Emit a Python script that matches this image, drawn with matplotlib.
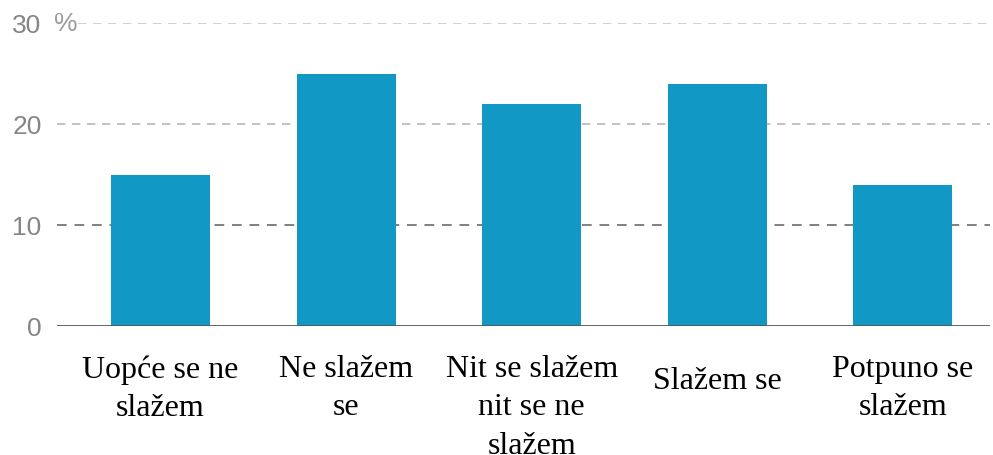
import numpy as np
import matplotlib.pyplot as plt
from matplotlib.transforms import blended_transform_factory

categories = ['Uopće se ne\nslažem', 'Ne slažem\nse', 'Nit se slažem\nnit se ne\nslažem',
              'Slažem se', 'Potpuno se\nslažem']
values = [15, 25, 22, 24, 14]
yticks = [0, 10, 20, 30]
ytick_labels = ['0', '10', '20', '30']

fig = plt.figure(figsize=(9.93, 4.56), dpi=100)
ax = fig.add_axes([57 / 993, 1 - 327 / 456, 933 / 993, 303 / 456])

x = np.arange(len(values))
ax.bar(x, values, width=0.534, color='#1198c5', zorder=3)
ax.set_xlim(-0.558, 4.47)
ax.set_ylim(0, 30)

# gridlines (top one starts after the "%" sign)
ax.axhline(30, xmin=0.023, color='#c8c8c8', lw=1.2, ls=(0, (5, 4)), zorder=1)
ax.axhline(20, color='#b8b8b8', lw=1.2, ls=(0, (5, 4)), zorder=1)
ax.axhline(10, color='#808080', lw=1.4, ls=(0, (5, 4)), zorder=1)
ax.axhline(0, color='#555555', lw=2, zorder=4)

for s in ax.spines.values():
    s.set_visible(False)
ax.set_xticks([])
ax.set_yticks(yticks)
ax.set_yticklabels(ytick_labels, fontsize=19, color='#858585', family='Liberation Sans')
ax.tick_params(axis='y', length=0, pad=11)

ax.text(-0.003, 30, '%', transform=blended_transform_factory(ax.transAxes, ax.transData),
        fontsize=19, color='#9a9a9a', va='center', ha='left', family='Liberation Sans')

trans = ax.get_xaxis_transform()
label_y = [-0.093, -0.093, -0.093, -0.133, -0.093]
for xi, lab, ly in zip(x, categories, label_y):
    ax.text(xi, ly, lab, transform=trans, ha='center', va='top', fontsize=23,
            family='Liberation Serif', color='black', linespacing=1.42, multialignment='center')

fig.savefig('out.png', dpi=100)
